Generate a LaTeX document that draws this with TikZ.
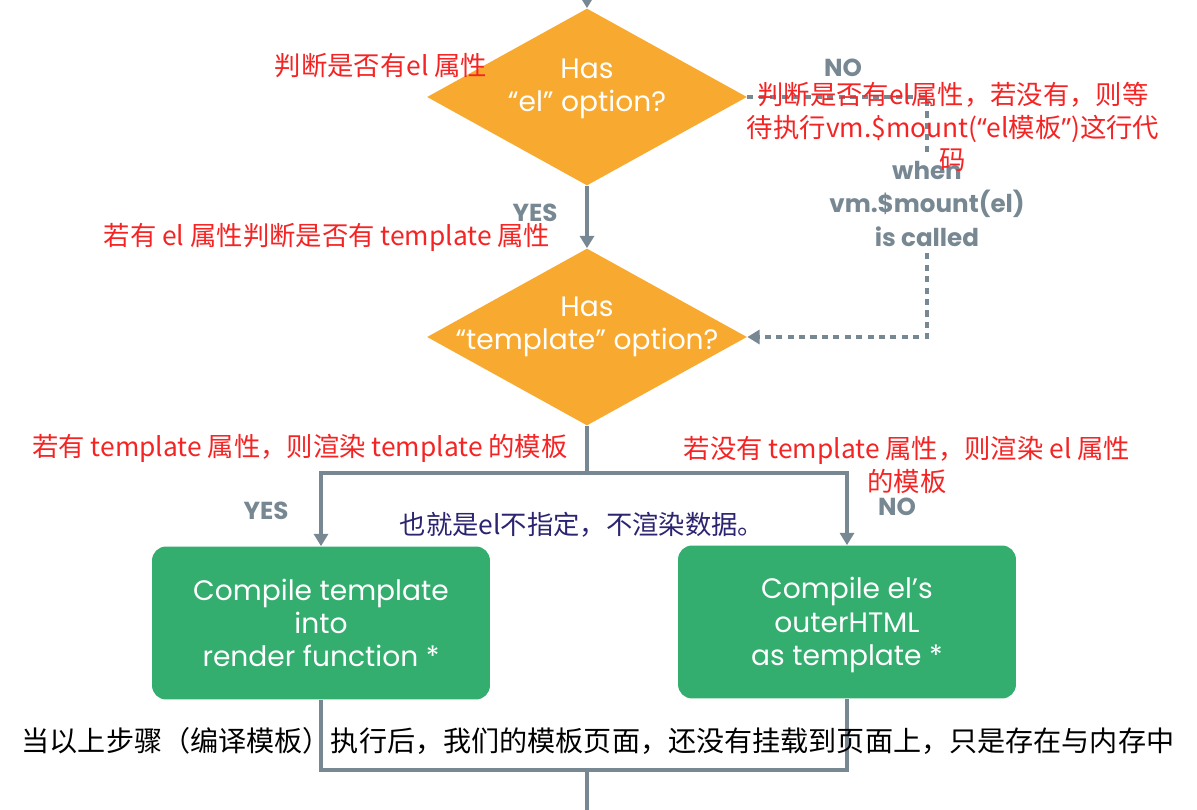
\documentclass[tikz,border=0pt]{standalone}
\usepackage{fontspec}
\setmainfont{Poppins}
\newfontfamily\cjk{Noto Sans CJK SC}
\newfontfamily\latin{Noto Sans}
\usetikzlibrary{arrows.meta,shapes.geometric}

\definecolor{vorange}{HTML}{F8A92F}
\definecolor{vgreen}{HTML}{33AE6E}
\definecolor{vgray}{HTML}{778893}
\definecolor{vred}{HTML}{F52424}
\definecolor{vnavy}{HTML}{2B2470}

\begin{document}
\begin{tikzpicture}[x=0.02cm,y=-0.02cm,
  flow/.style={draw=vgray,line width=2.2pt},
  arr/.style={flow,-{Triangle[width=8pt,length=7pt]}},
  dots/.style={flow,dash pattern=on 3.5pt off 3pt},
  decide/.style={diamond,fill=vorange,inner sep=0pt,minimum width=6.4cm,minimum height=3.54cm},
  decidetext/.style={text=white,font=\fontsize{16}{19}\selectfont,align=center},
  work/.style={rectangle,rounded corners=8pt,fill=vgreen,minimum width=6.76cm,minimum height=3.06cm,
    text=white,font=\fontsize{16}{19}\selectfont,align=center},
  lbl/.style={text=vgray,font=\bfseries\fontsize{14}{19.3}\selectfont,align=center},
  note/.style={text=vred,font=\cjk\fontsize{15}{18.5}\selectfont,align=center,inner sep=0pt},
]
\useasboundingbox (0,0) rectangle (1197,810);

% Decisions
\node[decide] (hasEl) at (587,97) {};
\node[decidetext] (hasElText) at (587,89) {Has\\“el” option?};
\node[decide] (hasTpl) at (587,337) {};
\node[decidetext] (hasTplText) at (587,327) {Has\\“template” option?};

% Compile steps
\node[work] (compileTpl) at (321,623) {Compile template\\into\\render function *};
\node[work] (compileEl) at (847,622) {};
\node[text=white,font=\fontsize{16}{19}\selectfont,align=center] (compileElText) at (847,625)
  {Compile el’s\\outerHTML\\as template *};

% Junction points
\coordinate (top) at (587,0);
\coordinate (split) at (587,473);
\coordinate (merge) at (587,770);
\coordinate (bot) at (587,810);
\coordinate (waitTop) at (927,97);
\coordinate (waitBot) at (927,337);

% Main flow
\draw[arr] (top) -- (hasEl.north);
\draw[arr] (hasEl.south) -- (hasTpl.north);
\draw[flow] (hasTpl.south) -- (split);
\draw[arr] (split) -| (compileTpl.north);
\draw[arr] (split) -| (compileEl.north);
\draw[flow] (compileTpl.south) |- (merge) -| (compileEl.south);
\draw[flow] (merge) -- (bot);

% Waiting for $mount
\node[lbl] (whenMount) at (927,204) {when\\vm.\$mount(el)\\is called};
\draw[dots] (hasEl.east) -- (waitTop) -- (whenMount.north);
\draw[dots,-{Triangle[width=8pt,length=7pt]}] (whenMount.south) -- (waitBot) -- (hasTpl.east);

% Branch labels
\node[lbl] (noEl) at (843,68) {NO};
\node[lbl] (yesEl) at (535,213) {YES};
\node[lbl] (yesTpl) at (266,511) {YES};
\node[lbl] (noTpl) at (897,507) {NO};

% Notes
\node[note] (noteEl) at (381,66) {判断是否有el 属性};
\node[note] (noteWait) at (953,127) {判断是否有el属性，若没有，则等\\待执行vm.\$mount({\latin “}el模板{\latin ”})这行代\\码};
\node[note] (noteTpl) at (327,237) {若有 el 属性判断是否有 template 属性};
\node[note] (noteYes) at (300,448) {若有 template 属性，则渲染 template 的模板};
\node[note] (noteNo) at (907,465) {若没有 template 属性，则渲染 el 属性\\的模板};
\node[text=vnavy,font=\cjk\fontsize{15}{18}\selectfont,inner sep=0pt] (noteData) at (582,525) {也就是el不指定，不渲染数据。};
\node[text=black,font=\cjk\fontsize{16}{18}\selectfont,inner sep=0pt] (noteMem) at (598,741)
  {当以上步骤（编译模板）执行后，我们的模板页面，还没有挂载到页面上，只是存在与内存中};

\end{tikzpicture}
\end{document}
